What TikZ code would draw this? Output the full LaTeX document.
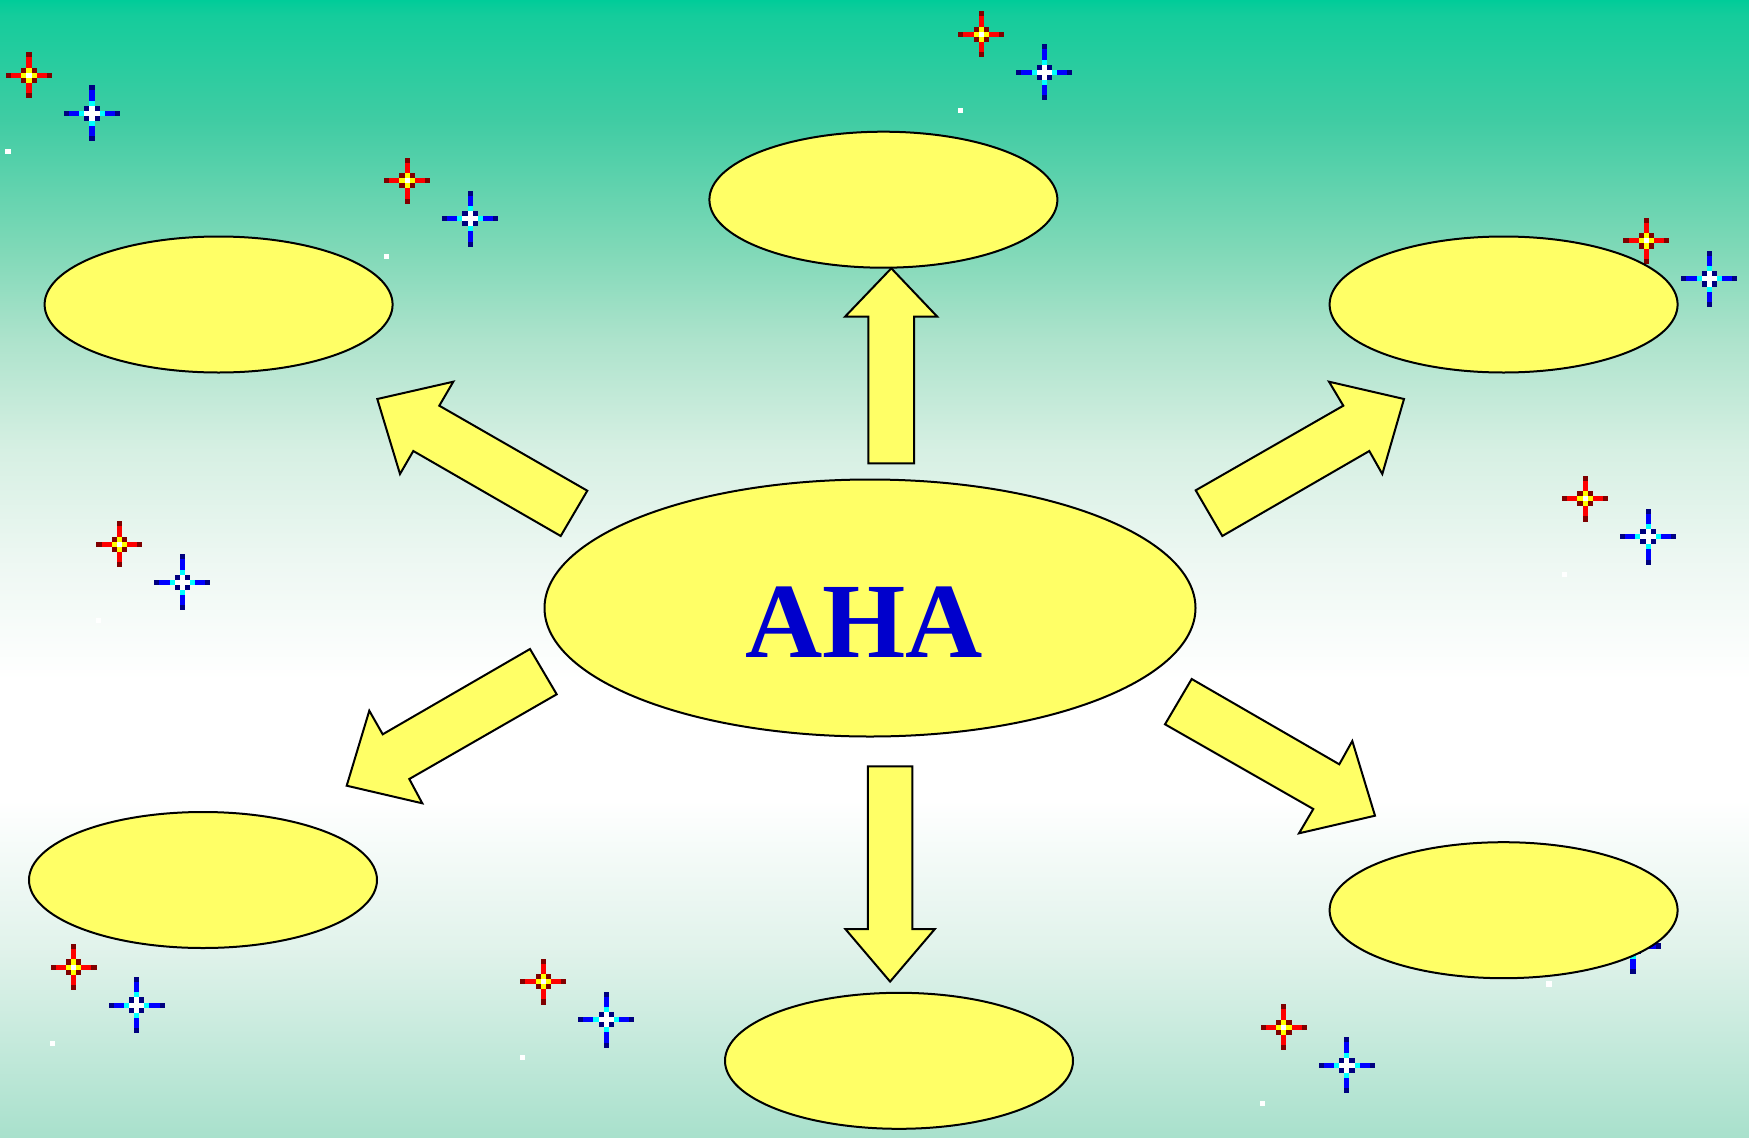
\documentclass[tikz,border=0pt]{standalone}
\usepackage{fontspec}
\setmainfont{Liberation Serif}
\usetikzlibrary{shapes.geometric}
\definecolor{fillyel}{RGB}{255,255,102}
\definecolor{ahablue}{RGB}{0,0,204}
\definecolor{dred}{RGB}{128,0,0}
\definecolor{navy}{RGB}{0,0,128}
\definecolor{sred}{RGB}{255,0,0}
\definecolor{syel}{RGB}{255,255,0}
\definecolor{sblue}{RGB}{0,0,255}
\definecolor{scyan}{RGB}{0,255,255}
\pgfdeclareverticalshading{bgshade}{100bp}{%
rgb(0bp)=(0.66,0.88,0.80);
rgb(25bp)=(0.66,0.88,0.80);
rgb(33.26bp)=(0.88,0.95,0.92);
rgb(39.85bp)=(1,1,1);
rgb(45.12bp)=(1,1,1);
rgb(50.40bp)=(0.93,0.97,0.95);
rgb(55.23bp)=(0.84,0.94,0.89);
rgb(60.06bp)=(0.68,0.89,0.80);
rgb(64.02bp)=(0.50,0.85,0.72);
rgb(69.73bp)=(0.25,0.80,0.64);
rgb(74.34bp)=(0.08,0.80,0.61);
rgb(75bp)=(0,0.80,0.60);
rgb(100bp)=(0,0.80,0.60)}
\tikzset{
  ell/.style={ellipse, draw=black, line width=2pt, fill=fillyel,
    minimum width=348pt, minimum height=136pt, inner sep=0pt},
  bigell/.style={ell, minimum width=651pt, minimum height=257pt},
  blockarrow/.style={draw=black, line width=2pt, fill=fillyel, line join=miter},
  redspark/.pic={
    \fill[dred] (-4.5,-0.5) rectangle (4.5,0.5);
    \fill[dred] (-0.5,-4.5) rectangle (0.5,4.5);
    \fill[sred] (-3.5,-0.5) rectangle (3.5,0.5);
    \fill[sred] (-0.5,-3.5) rectangle (0.5,3.5);
    \fill[dred] (-1.5,-1.5) rectangle (1.5,1.5);
    \fill[syel] (-1.5,-0.5) rectangle (1.5,0.5);
    \fill[syel] (-0.5,-1.5) rectangle (0.5,1.5);
    \fill[white] (-0.5,-0.5) rectangle (0.5,0.5);
  },
  bluespark/.pic={
    \fill[navy] (-5.5,-0.5) rectangle (5.5,0.5);
    \fill[navy] (-0.5,-5.5) rectangle (0.5,5.5);
    \fill[sblue] (-4.5,-0.5) rectangle (4.5,0.5);
    \fill[sblue] (-0.5,-4.5) rectangle (0.5,4.5);
    \fill[scyan] (-2.5,-0.5) rectangle (2.5,0.5);
    \fill[scyan] (-0.5,-2.5) rectangle (0.5,2.5);
    \fill[navy] (-1.5,-1.5) rectangle (1.5,1.5);
    \fill[white] (-1.5,-0.5) rectangle (1.5,0.5);
    \fill[white] (-0.5,-1.5) rectangle (0.5,1.5);
  },
  whitedot/.pic={
    \fill[white] (-0.5,-0.5) rectangle (0.5,0.5);
  },
  sparkpair/.pic={
    \pic[scale=5.1] at (0,0) {redspark};
    \pic[scale=5.1] at (63,38) {bluespark};
    \pic[scale=5.1] at (-21,76) {whitedot};
  }
}
\begin{document}
\begin{tikzpicture}[x=1pt,y=-1pt]
\useasboundingbox (0,0) rectangle (1749,1138);
\shade[shading=bgshade] (0,0) rectangle (1749,1138);
% sparkles
\foreach \sx/\sy in {29/75.3, 981.3/34.3, 407.1/180.7, 1646.4/240.9, 1585.1/498.6,
  119.4/544.3, 73.6/967.1, 543.2/981.6, 1283.9/1027.3, 1570/908}
  \pic at (\sx,\sy) {sparkpair};
% ellipses
\node[ell] (top) at (883.4,199.7) {};
\node[ell] (ul) at (218.6,304.5) {};
\node[ell] (ur) at (1503.6,304.5) {};
\node[ell] (ll) at (203,880) {};
\node[ell] (lr) at (1503.6,910.2) {};
\node[ell] (bottom) at (899,1060.8) {};
\node[bigell] (center) at (870,608) {};
\node[anchor=base, text=ahablue, font=\fontsize{107}{110}\selectfont\bfseries, inner sep=0pt]
  (ahatext) at (864,657.3) {AHA};
% block arrows
\draw[blockarrow] (587.3,490.7) -- (439.3,405.7) -- (453.3,381.7) -- (377.3,399)
  -- (400,474) -- (413.3,451) -- (560.7,536) -- cycle;
\draw[blockarrow] (1195.7,490.3) -- (1343.3,405.7) -- (1329,381.7) -- (1404,399)
  -- (1382.3,474) -- (1369.3,451) -- (1222.3,536) -- cycle;
\draw[blockarrow] (530,649) -- (382.7,734.3) -- (369.3,710.7) -- (346.7,785.7)
  -- (422.3,803.3) -- (409.3,779) -- (556.7,694.3) -- cycle;
\draw[blockarrow] (1191.7,679) -- (1339.3,764.3) -- (1352.3,741) -- (1375,815.7)
  -- (1299,833.3) -- (1313.3,809) -- (1165,724.3) -- cycle;
\draw[blockarrow] (868.3,463.3) -- (868.3,316.7) -- (845,316.7) -- (891.3,268.3)
  -- (937.3,316.7) -- (914,316.7) -- (914,463.3) -- cycle;
\draw[blockarrow] (867.8,766.3) -- (867.8,929.2) -- (845.5,929.2) -- (890.1,981.6)
  -- (934.7,929.2) -- (912.4,929.2) -- (912.4,766.3) -- cycle;
\end{tikzpicture}
\end{document}
